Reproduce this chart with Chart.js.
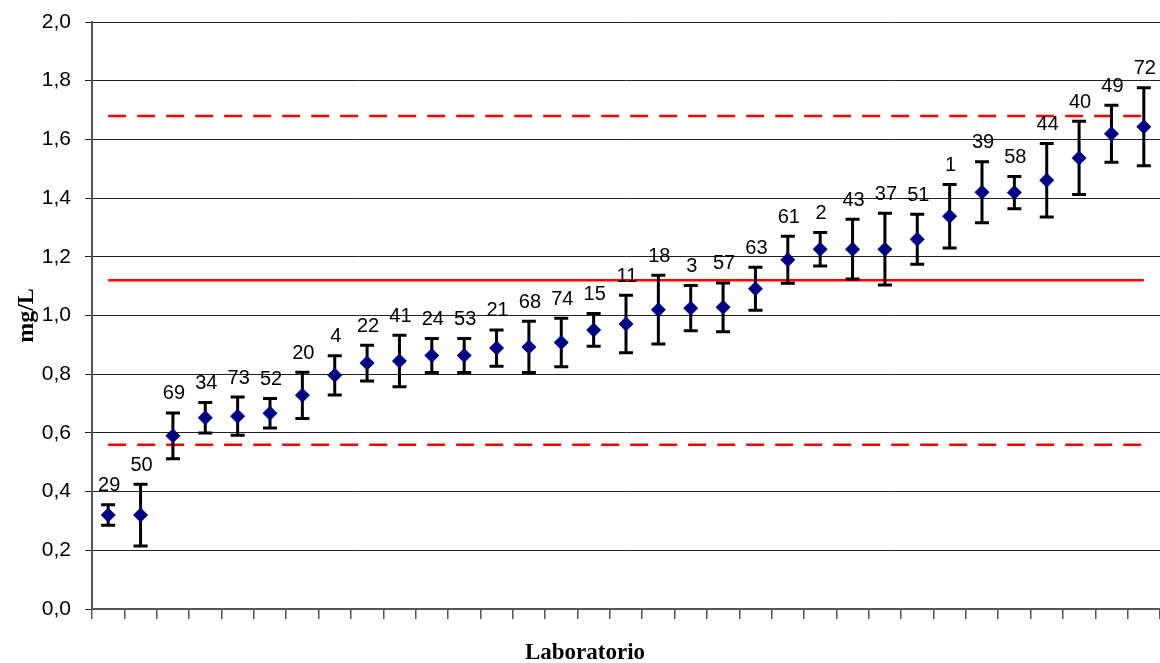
<!DOCTYPE html>
<html><head><meta charset="utf-8">
<script src="https://cdn.jsdelivr.net/npm/chart.js@4.4.0/dist/chart.umd.min.js"></script>
<style>html,body{margin:0;padding:0;background:#fff;} #wrap{width:1160px;height:663px;position:relative;}</style>
</head><body><div id="wrap"><canvas id="c"></canvas></div>
<script>
const labs = ['29','50','69','34','73','52','20','4','22','41','24','53','21','68','74','15','11','18','3','57','63','61','2','43','37','51','1','39','58','44','40','49','72'];
const values = [0.32,0.32,0.59,0.652,0.657,0.667,0.728,0.796,0.838,0.845,0.864,0.864,0.889,0.893,0.908,0.951,0.971,1.02,1.025,1.028,1.091,1.19,1.226,1.226,1.226,1.26,1.338,1.42,1.419,1.461,1.537,1.619,1.643];
const uncertainty = [0.035,0.105,0.078,0.052,0.065,0.05,0.079,0.067,0.061,0.088,0.058,0.058,0.062,0.087,0.083,0.056,0.098,0.117,0.077,0.083,0.073,0.08,0.057,0.102,0.122,0.085,0.108,0.104,0.055,0.125,0.125,0.097,0.133];
const assignedValue = 1.12;
const lowerLimit = 0.56;
const upperLimit = 1.68;
const yMin = 0, yMax = 2.0, yStep = 0.2;
const yTitle = 'mg/L';
const xTitle = 'Laboratorio';

const first = labs[0], last = labs[labs.length-1];
const refLine = v => [{x:first,y:v},{x:last,y:v}];

const errorBars = {
  id:'errorBars',
  beforeDatasetDraw(chart, args){
    if (args.index !== 0) return;
    const {ctx, scales:{x,y}} = chart;
    ctx.save();
    ctx.strokeStyle = '#000';
    ctx.lineWidth = 3;
    labs.forEach((l,i)=>{
      const px = x.getPixelForValue(i);
      const top = y.getPixelForValue(values[i]+uncertainty[i]);
      const bot = y.getPixelForValue(values[i]-uncertainty[i]);
      ctx.beginPath();
      ctx.moveTo(px, top); ctx.lineTo(px, bot);
      ctx.moveTo(px-7, top); ctx.lineTo(px+7, top);
      ctx.moveTo(px-7, bot); ctx.lineTo(px+7, bot);
      ctx.stroke();
    });
    ctx.restore();
  },
  afterDatasetsDraw(chart){
    const {ctx, scales:{x,y}} = chart;
    ctx.save();
    ctx.fillStyle = '#000';
    ctx.font = '20px "Liberation Sans", Arial, sans-serif';
    ctx.textAlign = 'center';
    ctx.textBaseline = 'middle';
    labs.forEach((l,i)=>{
      const px = x.getPixelForValue(i);
      const top = y.getPixelForValue(values[i]+uncertainty[i]);
      ctx.fillText(l, px+1, top-19);
    });
    ctx.font = 'bold 23px "Liberation Serif", "Times New Roman", serif';
    ctx.fillText(xTitle, 585, 653);
    ctx.restore();
  }
};

new Chart(document.getElementById('c'), {
  data: {
    labels: labs,
    datasets: [
      {type:'scatter', label:'Resultados', data: values, showLine:false,
       pointStyle:'rectRot', pointRadius:7.5, pointBackgroundColor:'#000080', pointBorderColor:'#000080', pointBorderWidth:0},
      {type:'line', label:'Valor asignado', data: refLine(assignedValue), borderColor:'#ff0000', borderWidth:2.5, pointRadius:0, fill:false},
      {type:'line', label:'Límite superior', data: refLine(upperLimit), borderColor:'#ff0000', borderWidth:2.5, borderDash:[18,11], pointRadius:0, fill:false},
      {type:'line', label:'Límite inferior', data: refLine(lowerLimit), borderColor:'#ff0000', borderWidth:2.5, borderDash:[18,11], pointRadius:0, fill:false}
    ]
  },
  options: {
    responsive:true, maintainAspectRatio:false, animation:false,
    layout:{autoPadding:false, padding:{top:22,right:0,bottom:0,left:0}},
    plugins:{legend:{display:false}, tooltip:{enabled:false}},
    scales:{
      x:{type:'category', labels: labs, offset:true,
         grid:{offset:true, drawOnChartArea:false, tickLength:10, color:'#555', lineWidth:1.5},
         border:{color:'#555', width:2},
         ticks:{display:false},
         afterFit(s){ s.height = 54; s.paddingLeft = 0; s.paddingRight = 0; }
      },
      y:{type:'linear', min:yMin, max:yMax,
         ticks:{stepSize:yStep, padding:14, color:'#000', font:{family:'"Liberation Sans", Arial, sans-serif', size:21},
           callback:v=>v.toFixed(1).replace('.',',')},
         grid:{color:'#222', lineWidth:1, tickLength:7},
         border:{color:'#555', width:2},
         title:{display:true, text:yTitle, color:'#000', font:{family:'"Liberation Serif", "Times New Roman", serif', weight:'bold', size:24}, padding:{top:12,bottom:0}},
         afterFit(s){ s.width = 92; s.paddingTop = 0; s.paddingBottom = 0; }
      }
    }
  },
  plugins:[errorBars]
});
</script>
</body></html>
